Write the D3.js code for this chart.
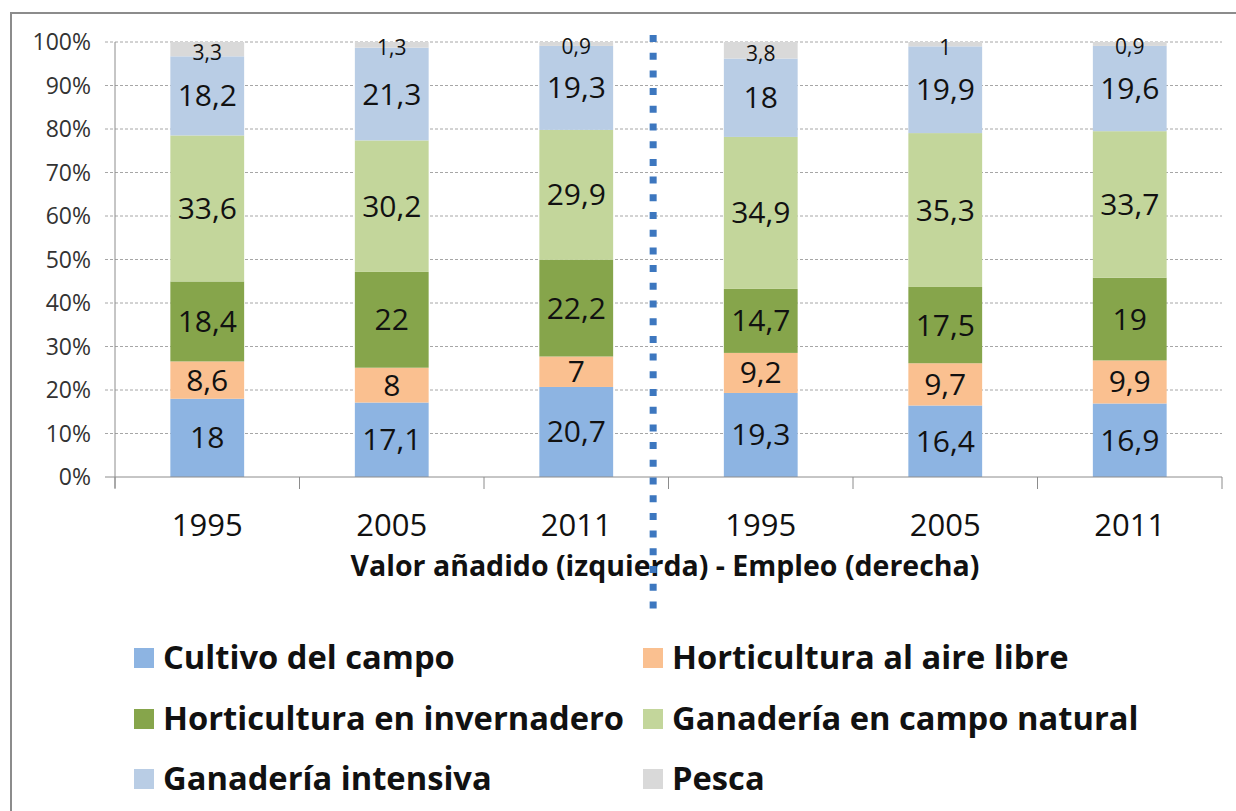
<!DOCTYPE html>
<html>
<head>
<meta charset="utf-8">
<title>Valor añadido y empleo por sector</title>
<script src="https://cdn.jsdelivr.net/npm/d3@7"></script>
<style>
  body { margin: 0; background: #fff; }
  svg { display: block; font-family: "Open Sans", sans-serif; }
</style>
</head>
<body>
<script>
// categorías (valor añadido a la izquierda, empleo a la derecha)
const years = ["1995", "2005", "2011", "1995", "2005", "2011"];

// series
const seriesNames = ["Cultivo del campo", "Horticultura al aire libre", "Horticultura en invernadero",
  "Ganadería en campo natural", "Ganadería intensiva", "Pesca"];
const cultivo = [18, 17.1, 20.7, 19.3, 16.4, 16.9];
const hortAire = [8.6, 8, 7, 9.2, 9.7, 9.9];
const hortInv = [18.4, 22, 22.2, 14.7, 17.5, 19];
const ganNatural = [33.6, 30.2, 29.9, 34.9, 35.3, 33.7];
const ganIntensiva = [18.2, 21.3, 19.3, 18, 19.9, 19.6];
const pesca = [3.3, 1.3, 0.9, 3.8, 1, 0.9];

const yTicks = [0, 0.1, 0.2, 0.3, 0.4, 0.5, 0.6, 0.7, 0.8, 0.9, 1];
const colors = ["#8db4e2", "#fac090", "#86a54b", "#c3d69b", "#b9cde5", "#d9d9d9"];

const allSeries = [cultivo, hortAire, hortInv, ganNatural, ganIntensiva, pesca];
const rows = years.map(function (yr, i) {
  let r = { idx: i };
  seriesNames.forEach(function (s, k) { r[s] = allSeries[k][i]; });
  return r;
});

const W = 1236, H = 811;
const plotLeft = 115, plotRight = 1222, plotTop = 42, plotBottom = 477;

const svg = d3.select("body").append("svg")
  .attr("width", W)
  .attr("height", H);

// borde exterior
svg.append("rect")
  .attr("x", 11).attr("y", 13)
  .attr("width", W).attr("height", H)
  .attr("fill", "none")
  .attr("stroke", "#8c8c8c")
  .attr("stroke-width", 2);

const x = d3.scaleBand()
  .domain(d3.range(years.length))
  .range([plotLeft, plotRight])
  .paddingInner(0.6)
  .paddingOuter(0.3);

const y = d3.scaleLinear()
  .domain([0, 1])
  .range([plotBottom, plotTop]);

const stack = d3.stack()
  .keys(seriesNames)
  .offset(d3.stackOffsetExpand);
const stacked = stack(rows);

// líneas de cuadrícula
svg.append("g")
  .selectAll("line")
  .data(yTicks.slice(1))
  .enter()
  .append("line")
  .attr("x1", plotLeft - 10).attr("x2", plotRight)
  .attr("y1", d => y(d)).attr("y2", d => y(d))
  .attr("stroke", "#a6a6a6")
  .attr("stroke-width", 1)
  .attr("stroke-dasharray", "3,2");

// barras
const layers = svg.append("g")
  .selectAll("g")
  .data(stacked)
  .enter()
  .append("g")
  .attr("fill", (d, i) => colors[i]);

layers.selectAll("rect")
  .data(d => d)
  .enter()
  .append("rect")
  .attr("x", d => x(d.data.idx))
  .attr("width", x.bandwidth())
  .attr("y", d => y(d[1]))
  .attr("height", d => y(d[0]) - y(d[1]));

// etiquetas de datos
stacked.forEach(function (layer, k) {
  const isSmall = k === seriesNames.length - 1;
  svg.append("g")
    .selectAll("text")
    .data(layer)
    .enter()
    .append("text")
    .attr("x", d => x(d.data.idx) + x.bandwidth() / 2)
    .attr("y", d => (y(d[0]) + y(d[1])) / 2 + (isSmall ? 3 : 0))
    .attr("dy", "0.35em")
    .attr("text-anchor", "middle")
    .attr("font-size", isSmall ? "21px" : "30px")
    .attr("fill", "#111")
    .text(d => String(d.data[layer.key]).replace(".", ","));
});

// eje y
const yAxis = svg.append("g");
yAxis.append("line")
  .attr("x1", plotLeft).attr("x2", plotLeft)
  .attr("y1", plotTop).attr("y2", plotBottom + 11)
  .attr("stroke", "#8c8c8c");
yAxis.append("line")
  .attr("x1", plotLeft - 10).attr("x2", plotLeft)
  .attr("y1", y(0)).attr("y2", y(0))
  .attr("stroke", "#8c8c8c");
yAxis.selectAll("text")
  .data(yTicks)
  .enter()
  .append("text")
  .attr("x", 91)
  .attr("y", d => y(d))
  .attr("dy", "0.35em")
  .attr("text-anchor", "end")
  .attr("font-size", "23px")
  .attr("fill", "#333")
  .text(d => d3.format(".0%")(d));

// eje x
const xAxis = svg.append("g");
xAxis.append("line")
  .attr("x1", plotLeft).attr("x2", plotRight)
  .attr("y1", plotBottom).attr("y2", plotBottom)
  .attr("stroke", "#8c8c8c");
xAxis.selectAll("line.tick")
  .data(d3.range(years.length + 1))
  .enter()
  .append("line")
  .attr("class", "tick")
  .attr("x1", i => plotLeft + i * x.step())
  .attr("x2", i => plotLeft + i * x.step())
  .attr("y1", plotBottom).attr("y2", plotBottom + 12)
  .attr("stroke", "#8c8c8c");
xAxis.selectAll("text")
  .data(years)
  .enter()
  .append("text")
  .attr("x", (d, i) => x(i) + x.bandwidth() / 2)
  .attr("y", 536)
  .attr("text-anchor", "middle")
  .attr("font-size", "31px")
  .attr("fill", "#111")
  .text(d => d);

svg.append("text")
  .attr("x", 665)
  .attr("y", 576)
  .attr("text-anchor", "middle")
  .attr("font-size", "28.5px")
  .attr("font-weight", "bold")
  .attr("fill", "#111")
  .text("Valor añadido (izquierda) - Empleo (derecha)");

// separador punteado
const sepX = x(2) + x.bandwidth() + 40;
svg.append("line")
  .attr("x1", sepX).attr("x2", sepX)
  .attr("y1", 35).attr("y2", 614)
  .attr("stroke", "#3d77bf")
  .attr("stroke-width", 7)
  .attr("stroke-dasharray", "7,10.7");

// leyenda
const legendX = [134, 643];
const legendY = [658, 719, 779];
const legend = svg.append("g")
  .selectAll("g")
  .data(seriesNames)
  .enter()
  .append("g")
  .attr("transform", (d, i) => "translate(" + legendX[i % 2] + "," + legendY[Math.floor(i / 2)] + ")");
legend.append("rect")
  .attr("x", 0).attr("y", -10)
  .attr("width", 20).attr("height", 20)
  .attr("fill", (d, i) => colors[i]);
legend.append("text")
  .attr("x", 29)
  .attr("dy", "0.35em")
  .attr("font-size", "32.7px")
  .attr("font-weight", "bold")
  .attr("fill", "#111")
  .text(d => d);
</script>
</body>
</html>
